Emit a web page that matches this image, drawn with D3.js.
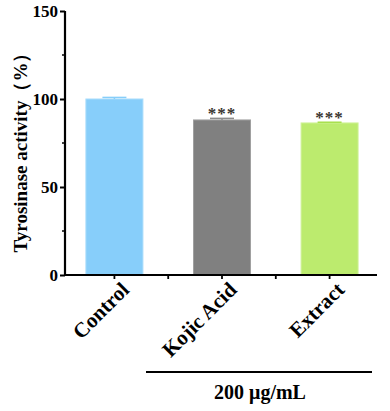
<!DOCTYPE html>
<html><head><meta charset="utf-8">
<script src="https://cdn.jsdelivr.net/npm/d3@7"></script>
<style>body{margin:0;background:#fff;} text{font-family:"Liberation Serif","Times New Roman",serif;font-weight:bold;}</style>
</head><body>
<svg id="c" width="390" height="411"></svg>
<script>
const categories = ["Control", "Kojic Acid", "Extract"];
const values = [100, 88.1, 86.4];
const errors = [0.9, 0.9, 0.4];
const stars = ["", "***", "***"];
const fills = ["#87CEFA", "#808080", "#BCEB6E"];
const strokes = ["#A8DCFB", "#A0A0A0", "#CFF199"];
const errColors = ["#87CEFA", "#8C8C8C", "#A8E04E"];
const yTicks = [0, 50, 100, 150];
const yMinorTicks = [25, 75, 125];
const groupLabel = "200 μg/mL";
const yTitle = "Tyrosinase activity（%）";

const svg = d3.select("#c");
const x0 = 65, x1 = 377, yTop = 11, yBot = 275;
const y = d3.scaleLinear().domain([0, 150]).range([yBot, yTop]);
const x = d3.scaleBand().domain(categories).range([x0 + 1, x0 + 1 + 312]).paddingInner(0.1);
const bw = 57;
const cx = d => x(d) + x.bandwidth() / 2;

// bars
const g = svg.append("g");
categories.forEach((c, i) => {
  g.append("rect").attr("x", cx(c) - bw / 2).attr("y", y(values[i]))
    .attr("width", bw).attr("height", y(0) - y(values[i]))
    .attr("fill", fills[i]).attr("stroke", strokes[i]).attr("stroke-width", 1);
  const top = y(values[i] + errors[i]);
  g.append("line").attr("x1", cx(c)).attr("x2", cx(c)).attr("y1", y(values[i])).attr("y2", top)
    .attr("stroke", errColors[i]).attr("stroke-width", 1.5);
  g.append("line").attr("x1", cx(c) - 12).attr("x2", cx(c) + 12).attr("y1", top).attr("y2", top)
    .attr("stroke", errColors[i]).attr("stroke-width", 1.5);
  if (stars[i]) {
    g.append("text").attr("x", cx(c)).attr("y", top + 1).attr("text-anchor", "middle")
      .attr("font-size", 17).attr("fill", "#3a3530").attr("letter-spacing", 1).text(stars[i]);
  }
});

// y axis
const yAxis = svg.append("g").attr("transform", `translate(${x0},0)`)
  .call(d3.axisLeft(y).tickValues(yTicks).tickSize(5).tickPadding(2));
yAxis.select(".domain").attr("stroke", "#000").attr("stroke-width", 2.2).attr("d", `M0,${yTop}V${yBot + 1}`);
yAxis.selectAll(".tick line").attr("stroke-width", 2);
yAxis.selectAll(".tick text").attr("font-size", 17).attr("fill", "#000")
  .style("font-family", "'Liberation Serif',serif").style("font-weight", "bold");
svg.append("g").selectAll("line").data(yMinorTicks).join("line")
  .attr("x1", x0 - 3).attr("x2", x0).attr("y1", d => y(d)).attr("y2", d => y(d))
  .attr("stroke", "#000").attr("stroke-width", 1.5);

// x axis
svg.append("line").attr("x1", x0 - 1).attr("x2", x1).attr("y1", yBot).attr("y2", yBot)
  .attr("stroke", "#000").attr("stroke-width", 2.2);
const tickXs = [];
categories.forEach((c, i) => {
  tickXs.push(cx(c));
  if (i < categories.length - 1) tickXs.push((cx(c) + cx(categories[i + 1])) / 2);
});
svg.append("g").selectAll("line").data(tickXs).join("line")
  .attr("x1", d => d).attr("x2", d => d).attr("y1", yBot).attr("y2", yBot + 4)
  .attr("stroke", "#000").attr("stroke-width", 1.8);

// x labels rotated
categories.forEach(c => {
  svg.append("text").attr("transform", `translate(${cx(c) + 16},${yBot + 16}) rotate(-45)`)
    .attr("text-anchor", "end").attr("font-size", 21).attr("fill", "#000").text(c);
});

// group line and label
svg.append("line").attr("x1", 146).attr("x2", 372).attr("y1", 372).attr("y2", 372)
  .attr("stroke", "#000").attr("stroke-width", 2);
svg.append("text").attr("x", 260).attr("y", 399).attr("text-anchor", "middle")
  .attr("font-size", 20).attr("fill", "#000").text(groupLabel);

// y title
svg.append("text").attr("transform", `translate(27,148) rotate(-90)`).attr("text-anchor", "middle")
  .attr("font-size", 19).attr("fill", "#000").text(yTitle);
</script>
</body></html>
